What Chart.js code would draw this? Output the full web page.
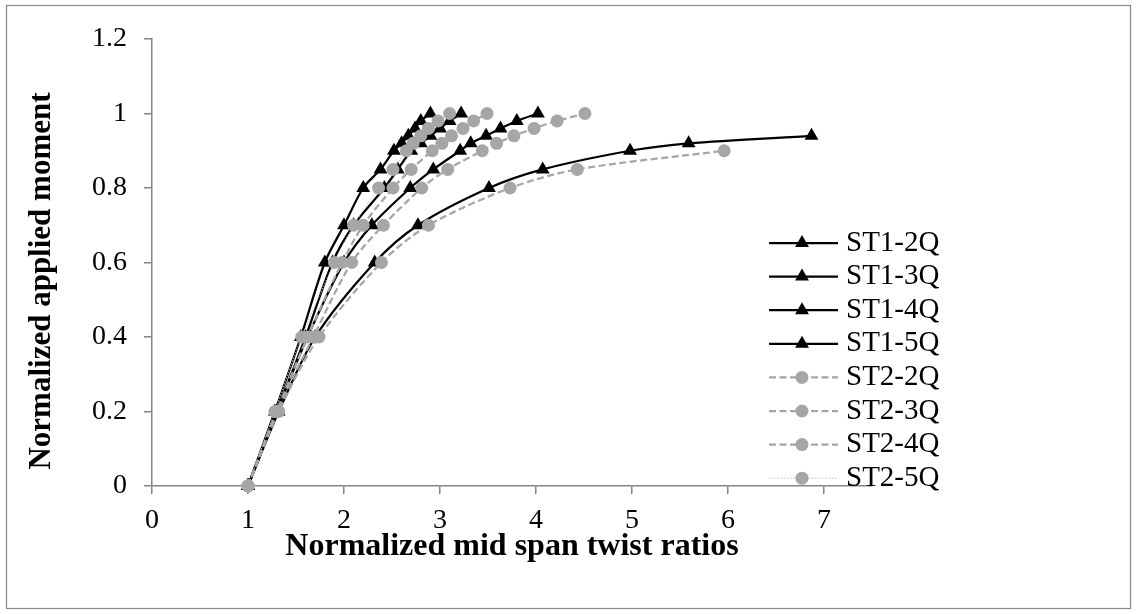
<!DOCTYPE html>
<html>
<head>
<meta charset="utf-8">
<script src="https://cdn.jsdelivr.net/npm/chart.js@4/dist/chart.umd.min.js"></script>
<style>
  html, body { margin: 0; padding: 0; background: #fff; }
  #wrap { width: 1137px; height: 614px; position: relative; }
</style>
</head>
<body>
<div id="wrap"><canvas id="chart"></canvas></div>
<script>
// Series values (x = normalized twist ratio, y = normalized moment)
const seriesLabels = ["ST1-2Q", "ST1-3Q", "ST1-4Q", "ST1-5Q", "ST2-2Q", "ST2-3Q", "ST2-4Q", "ST2-5Q"];

const st1_2q_x = [1, 1.32, 1.7, 2.32, 2.77, 3.51, 4.07, 4.98, 5.59, 6.87];
const st1_2q_y = [0, 0.2, 0.4, 0.6, 0.7, 0.8, 0.85, 0.9, 0.92, 0.94];
const st1_3q_x = [1, 1.3, 1.62, 2.0, 2.29, 2.69, 2.93, 3.21, 3.32, 3.48, 3.63, 3.8, 4.02];
const st1_3q_y = [0, 0.2, 0.4, 0.6, 0.7, 0.8, 0.85, 0.9, 0.92, 0.94, 0.96, 0.98, 1.0];
const st1_4q_x = [1, 1.3, 1.6, 1.88, 2.1, 2.42, 2.56, 2.7, 2.8, 2.9, 3.0, 3.1, 3.22];
const st1_4q_y = [0, 0.2, 0.4, 0.6, 0.7, 0.8, 0.85, 0.9, 0.92, 0.94, 0.96, 0.98, 1.0];
const st1_5q_x = [1, 1.28, 1.55, 1.8, 2.0, 2.2, 2.38, 2.52, 2.6, 2.67, 2.74, 2.8, 2.9];
const st1_5q_y = [0, 0.2, 0.4, 0.6, 0.7, 0.8, 0.85, 0.9, 0.92, 0.94, 0.96, 0.98, 1.0];

const st2_2q_x = [1, 1.32, 1.74, 2.39, 2.88, 3.73, 4.43, 5.96];
const st2_2q_y = [0, 0.2, 0.4, 0.6, 0.7, 0.8, 0.85, 0.9];
const st2_3q_x = [1, 1.3, 1.68, 2.08, 2.41, 2.81, 3.08, 3.44, 3.59, 3.77, 3.98, 4.22, 4.51];
const st2_3q_y = [0, 0.2, 0.4, 0.6, 0.7, 0.8, 0.85, 0.9, 0.92, 0.94, 0.96, 0.98, 1.0];
const st2_4q_x = [1, 1.3, 1.62, 1.98, 2.2, 2.51, 2.7, 2.92, 3.02, 3.12, 3.24, 3.35, 3.49];
const st2_4q_y = [0, 0.2, 0.4, 0.6, 0.7, 0.8, 0.85, 0.9, 0.92, 0.94, 0.96, 0.98, 1.0];
const st2_5q_x = [1, 1.28, 1.56, 1.9, 2.1, 2.36, 2.51, 2.65, 2.72, 2.8, 2.88, 2.98, 3.1];
const st2_5q_y = [0, 0.2, 0.4, 0.6, 0.7, 0.8, 0.85, 0.9, 0.92, 0.94, 0.96, 0.98, 1.0];

const xTickValues = [0, 1, 2, 3, 4, 5, 6, 7];
const yTickValues = [0, 0.2, 0.4, 0.6, 0.8, 1, 1.2];
const xTitle = "Normalized mid span twist ratios";
const yTitle = "Normalized applied moment";

const AXIS_GREY = "#868686";
const GREY = "#a6a6a6";
const SERIF = '"Liberation Serif", "Times New Roman", serif';

function pts(xs, ys) {
    return xs.map((x, i) => ({ x, y: ys[i] }));
}

function st1(label, xs, ys) {
    return {
        label, data: pts(xs, ys),
        borderColor: "#000", backgroundColor: "#000",
        borderWidth: 2.25, tension: 0.3, clip: false, order: 1,
        pointStyle: "triangle", pointRadius: 8, pointBorderWidth: 0,
        pointBackgroundColor: "#000",
    };
}

function st2(label, xs, ys, dotted) {
    return {
        label, data: pts(xs, ys),
        borderColor: dotted ? "#c4c4c4" : GREY, backgroundColor: GREY,
        borderWidth: dotted ? 1 : 2.25,
        borderDash: dotted ? [1.5, 1.5] : [7, 3.5],
        tension: 0.3, clip: false, order: 0,
        pointStyle: "circle", pointRadius: 6.5, pointBorderWidth: 0,
        pointBackgroundColor: GREY,
    };
}

const datasets = [
    st1(seriesLabels[0], st1_2q_x, st1_2q_y),
    st1(seriesLabels[1], st1_3q_x, st1_3q_y),
    st1(seriesLabels[2], st1_4q_x, st1_4q_y),
    st1(seriesLabels[3], st1_5q_x, st1_5q_y),
    st2(seriesLabels[4], st2_2q_x, st2_2q_y, false),
    st2(seriesLabels[5], st2_3q_x, st2_3q_y, false),
    st2(seriesLabels[6], st2_4q_x, st2_4q_y, false),
    st2(seriesLabels[7], st2_5q_x, st2_5q_y, true),
];

// outer frame of the chart, plus the y title (Excel puts it a bit below centre)
const framePlugin = {
    id: "frame",
    beforeDraw(chart) {
        const ctx = chart.ctx;
        ctx.save();
        ctx.fillStyle = "#fff";
        ctx.fillRect(0, 0, chart.width, chart.height);
        ctx.strokeStyle = "#8c8c8c";
        ctx.lineWidth = 1.25;
        ctx.strokeRect(6.5, 5.5, 1124, 603);
        ctx.restore();
    },
    afterDraw(chart) {
        const ctx = chart.ctx;
        ctx.save();
        ctx.translate(42, 281);
        ctx.rotate(-Math.PI / 2);
        ctx.fillStyle = "#000";
        ctx.font = "bold 31px " + SERIF;
        ctx.textAlign = "center";
        ctx.textBaseline = "middle";
        ctx.fillText(yTitle, 0, 0);
        ctx.restore();
    },
};

// legend sits inside the plot, on the right, like the Excel original
const insideLegend = {
    id: "insideLegend",
    afterDraw(chart) {
        const ctx = chart.ctx;
        ctx.save();
        chart.data.datasets.forEach((ds, i) => {
            const y = 243 + i * 33.6;
            ctx.strokeStyle = ds.borderColor;
            ctx.lineWidth = ds.borderWidth;
            ctx.setLineDash(ds.borderDash || []);
            ctx.beginPath();
            ctx.moveTo(769, y);
            ctx.lineTo(838, y);
            ctx.stroke();
            ctx.setLineDash([]);
            ctx.fillStyle = ds.pointBackgroundColor;
            Chart.helpers.drawPoint(ctx, {
                pointStyle: ds.pointStyle, rotation: 0,
                radius: ds.pointRadius, borderWidth: 0,
            }, 802, y);
            ctx.fillStyle = "#000";
            ctx.font = "29px " + SERIF;
            ctx.textAlign = "left";
            ctx.textBaseline = "middle";
            ctx.fillText(ds.label, 846, y);
        });
        ctx.restore();
    },
};

new Chart(document.getElementById("chart"), {
    type: "line",
    data: { datasets },
    plugins: [framePlugin, insideLegend],
    options: {
        responsive: true,
        maintainAspectRatio: false,
        animation: false,
        layout: { padding: { top: 39, right: 265, left: 0, bottom: 0 } },
        plugins: {
            legend: { display: false },
            tooltip: { enabled: false },
        },
        scales: {
            x: {
                type: "linear",
                min: 0, max: 7.5,
                afterBuildTicks: s => { s.ticks = xTickValues.map(v => ({ value: v })); },
                afterFit: s => { s.height = 128; },
                ticks: {
                    color: "#000", font: { family: SERIF, size: 28 },
                    padding: 10, maxRotation: 0,
                },
                grid: {
                    display: true, drawOnChartArea: false, drawTicks: true,
                    tickLength: 8, color: AXIS_GREY, lineWidth: 1.5,
                },
                border: { color: AXIS_GREY, width: 1.5 },
                title: {
                    display: true, text: xTitle,
                    color: "#000", font: { family: SERIF, size: 32, weight: "bold" },
                    padding: { top: 0, bottom: 48 },
                },
            },
            y: {
                min: 0, max: 1.2,
                afterBuildTicks: s => { s.ticks = yTickValues.map(v => ({ value: v })); },
                afterFit: s => { s.width = 152; },
                ticks: {
                    color: "#000", font: { family: SERIF, size: 28 },
                    padding: 17,
                    callback: v => String(Math.round(v * 10) / 10),
                },
                grid: {
                    display: true, drawOnChartArea: false, drawTicks: true,
                    tickLength: 8, color: AXIS_GREY, lineWidth: 1.5,
                },
                border: { color: AXIS_GREY, width: 1.5 },
            },
        },
    },
});
</script>
</body>
</html>
